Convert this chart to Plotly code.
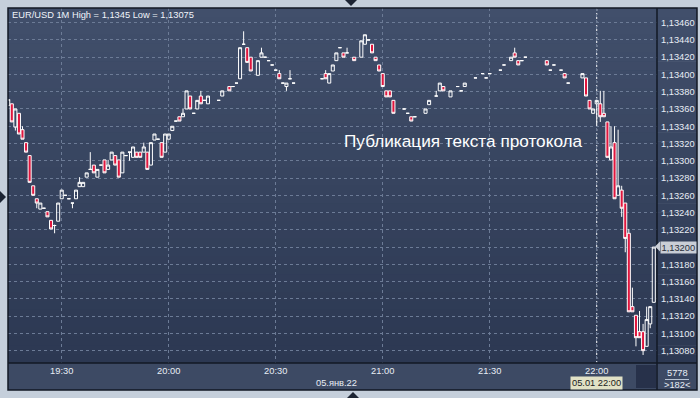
import plotly.graph_objects as go

DAY = "2022-01-05 "

times = [
    "19:15", "19:16", "19:17", "19:18", "19:19", "19:20", "19:21", "19:22", "19:23", "19:24",
    "19:25", "19:26", "19:27", "19:28", "19:29", "19:30", "19:31", "19:32", "19:33", "19:34",
    "19:35", "19:36", "19:37", "19:38", "19:39", "19:40", "19:41", "19:42", "19:43", "19:44",
    "19:45", "19:46", "19:47", "19:48", "19:49", "19:50", "19:51", "19:52", "19:53", "19:54",
    "19:55", "19:56", "19:57", "19:58", "19:59", "20:00", "20:01", "20:02", "20:03", "20:04",
    "20:05", "20:06", "20:07", "20:08", "20:09", "20:10", "20:11", "20:14", "20:15", "20:17",
    "20:18", "20:19", "20:20", "20:21", "20:22", "20:23", "20:25", "20:26", "20:27", "20:28",
    "20:29", "20:30", "20:31", "20:32", "20:33", "20:34", "20:35", "20:43", "20:44", "20:45",
    "20:46", "20:47", "20:48", "20:49", "20:50", "20:52", "20:54", "20:55", "20:56", "20:57",
    "20:58", "20:59", "21:00", "21:01", "21:02", "21:03", "21:06", "21:07", "21:08", "21:09",
    "21:12", "21:13", "21:15", "21:16", "21:17", "21:19", "21:21", "21:22", "21:23", "21:26",
    "21:28", "21:29", "21:30", "21:33", "21:34", "21:36", "21:37", "21:38", "21:39", "21:40",
    "21:46", "21:47", "21:48", "21:50", "21:51", "21:52", "21:56", "21:57", "21:58", "21:59",
    "22:00", "22:01", "22:02", "22:03", "22:04", "22:05", "22:06", "22:07", "22:08", "22:09",
    "22:10", "22:11", "22:12", "22:13", "22:14", "22:15", "22:16",
]

opens = [
    1.13364, 1.13366, 1.13339, 1.13355, 1.13336, 1.13321, 1.13306, 1.13271, 1.13256, 1.13244,
    1.13245, 1.13241, 1.13231, 1.13225, 1.13230, 1.13256, 1.13260, 1.13256, 1.13251, 1.13256,
    1.13270, 1.13270, 1.13281, 1.13290, 1.13295, 1.13281, 1.13295, 1.13301, 1.13290, 1.13301,
    1.13306, 1.13301, 1.13286, 1.13306, 1.13310, 1.13304, 1.13310, 1.13310, 1.13310, 1.13310,
    1.13295, 1.13324, 1.13325, 1.13321, 1.13310, 1.13325, 1.13335, 1.13346, 1.13351, 1.13351,
    1.13360, 1.13375, 1.13355, 1.13360, 1.13375, 1.13370, 1.13366, 1.13370, 1.13375, 1.13386,
    1.13386, 1.13390, 1.13395, 1.13435, 1.13431, 1.13420, 1.13399, 1.13420, 1.13420, 1.13416,
    1.13411, 1.13405, 1.13401, 1.13390, 1.13386, 1.13395, 1.13390, 1.13395, 1.13401, 1.13390,
    1.13404, 1.13416, 1.13431, 1.13425, 1.13425, 1.13420, 1.13420, 1.13435, 1.13440, 1.13435,
    1.13420, 1.13411, 1.13401, 1.13381, 1.13381, 1.13370, 1.13360, 1.13355, 1.13351, 1.13351,
    1.13355, 1.13365, 1.13375, 1.13381, 1.13386, 1.13374, 1.13386, 1.13381, 1.13386, 1.13396,
    1.13401, 1.13396, 1.13401, 1.13405, 1.13411, 1.13416, 1.13425, 1.13416, 1.13416, 1.13420,
    1.13416, 1.13405, 1.13411, 1.13405, 1.13401, 1.13390, 1.13396, 1.13396, 1.13370, 1.13355,
    1.13366, 1.13366, 1.13355, 1.13345, 1.13301, 1.13321, 1.13260, 1.13266, 1.13251, 1.13216,
    1.13131, 1.13121, 1.13102, 1.13102, 1.13085, 1.13111, 1.13136,
]

highs = [
    1.13371, 1.13366, 1.13360, 1.13355, 1.13340, 1.13321, 1.13306, 1.13271, 1.13256, 1.13251,
    1.13245, 1.13241, 1.13231, 1.13226, 1.13251, 1.13266, 1.13260, 1.13256, 1.13251, 1.13266,
    1.13281, 1.13275, 1.13286, 1.13310, 1.13295, 1.13290, 1.13295, 1.13301, 1.13301, 1.13310,
    1.13306, 1.13301, 1.13310, 1.13306, 1.13310, 1.13316, 1.13310, 1.13310, 1.13321, 1.13310,
    1.13321, 1.13331, 1.13325, 1.13321, 1.13331, 1.13331, 1.13340, 1.13346, 1.13351, 1.13360,
    1.13381, 1.13375, 1.13355, 1.13370, 1.13381, 1.13370, 1.13375, 1.13370, 1.13381, 1.13386,
    1.13386, 1.13390, 1.13431, 1.13450, 1.13431, 1.13420, 1.13416, 1.13431, 1.13420, 1.13416,
    1.13411, 1.13405, 1.13405, 1.13390, 1.13390, 1.13405, 1.13390, 1.13395, 1.13405, 1.13401,
    1.13411, 1.13425, 1.13431, 1.13425, 1.13431, 1.13420, 1.13439, 1.13446, 1.13440, 1.13435,
    1.13420, 1.13411, 1.13401, 1.13381, 1.13381, 1.13370, 1.13360, 1.13355, 1.13351, 1.13351,
    1.13360, 1.13370, 1.13381, 1.13390, 1.13386, 1.13381, 1.13386, 1.13381, 1.13390, 1.13396,
    1.13401, 1.13396, 1.13401, 1.13405, 1.13411, 1.13420, 1.13431, 1.13416, 1.13416, 1.13420,
    1.13416, 1.13405, 1.13411, 1.13405, 1.13401, 1.13390, 1.13401, 1.13396, 1.13370, 1.13360,
    1.13370, 1.13381, 1.13381, 1.13345, 1.13340, 1.13340, 1.13336, 1.13271, 1.13251, 1.13221,
    1.13153, 1.13121, 1.13126, 1.13111, 1.13131, 1.13131, 1.13200,
]

lows = [
    1.13364, 1.13345, 1.13335, 1.13331, 1.13325, 1.13310, 1.13275, 1.13260, 1.13245, 1.13244,
    1.13245, 1.13235, 1.13221, 1.13216, 1.13230, 1.13256, 1.13260, 1.13256, 1.13245, 1.13256,
    1.13270, 1.13270, 1.13281, 1.13290, 1.13286, 1.13281, 1.13295, 1.13286, 1.13290, 1.13301,
    1.13295, 1.13281, 1.13286, 1.13306, 1.13300, 1.13304, 1.13304, 1.13304, 1.13310, 1.13290,
    1.13295, 1.13324, 1.13325, 1.13304, 1.13310, 1.13325, 1.13335, 1.13346, 1.13346, 1.13351,
    1.13360, 1.13360, 1.13355, 1.13360, 1.13366, 1.13370, 1.13366, 1.13370, 1.13375, 1.13381,
    1.13386, 1.13390, 1.13395, 1.13435, 1.13414, 1.13404, 1.13399, 1.13420, 1.13420, 1.13416,
    1.13411, 1.13405, 1.13395, 1.13390, 1.13381, 1.13395, 1.13390, 1.13395, 1.13395, 1.13390,
    1.13404, 1.13416, 1.13431, 1.13420, 1.13425, 1.13416, 1.13420, 1.13435, 1.13440, 1.13425,
    1.13416, 1.13404, 1.13386, 1.13374, 1.13374, 1.13355, 1.13360, 1.13355, 1.13346, 1.13351,
    1.13355, 1.13365, 1.13375, 1.13381, 1.13381, 1.13374, 1.13386, 1.13381, 1.13386, 1.13396,
    1.13401, 1.13396, 1.13401, 1.13405, 1.13411, 1.13416, 1.13420, 1.13411, 1.13416, 1.13420,
    1.13411, 1.13405, 1.13411, 1.13405, 1.13396, 1.13390, 1.13396, 1.13375, 1.13360, 1.13355,
    1.13341, 1.13345, 1.13351, 1.13304, 1.13301, 1.13256, 1.13260, 1.13235, 1.13194, 1.13125,
    1.13125, 1.13085, 1.13095, 1.13075, 1.13085, 1.13106, 1.13136,
]

closes = [
    1.13371, 1.13345, 1.13360, 1.13331, 1.13325, 1.13310, 1.13275, 1.13260, 1.13251, 1.13251,
    1.13245, 1.13235, 1.13221, 1.13225, 1.13251, 1.13266, 1.13260, 1.13256, 1.13251, 1.13266,
    1.13275, 1.13275, 1.13286, 1.13290, 1.13286, 1.13290, 1.13295, 1.13286, 1.13295, 1.13310,
    1.13295, 1.13281, 1.13310, 1.13306, 1.13310, 1.13316, 1.13304, 1.13304, 1.13316, 1.13290,
    1.13321, 1.13331, 1.13325, 1.13304, 1.13331, 1.13331, 1.13340, 1.13346, 1.13346, 1.13355,
    1.13381, 1.13360, 1.13355, 1.13370, 1.13366, 1.13370, 1.13375, 1.13370, 1.13381, 1.13381,
    1.13386, 1.13390, 1.13431, 1.13435, 1.13414, 1.13404, 1.13416, 1.13425, 1.13420, 1.13416,
    1.13411, 1.13405, 1.13395, 1.13390, 1.13390, 1.13395, 1.13390, 1.13395, 1.13395, 1.13401,
    1.13411, 1.13425, 1.13431, 1.13420, 1.13425, 1.13416, 1.13439, 1.13446, 1.13440, 1.13425,
    1.13416, 1.13404, 1.13386, 1.13374, 1.13374, 1.13355, 1.13360, 1.13355, 1.13346, 1.13351,
    1.13360, 1.13370, 1.13375, 1.13390, 1.13381, 1.13381, 1.13386, 1.13381, 1.13390, 1.13396,
    1.13401, 1.13396, 1.13401, 1.13405, 1.13411, 1.13420, 1.13420, 1.13411, 1.13416, 1.13420,
    1.13411, 1.13405, 1.13411, 1.13405, 1.13396, 1.13390, 1.13401, 1.13375, 1.13360, 1.13360,
    1.13370, 1.13351, 1.13351, 1.13304, 1.13316, 1.13256, 1.13271, 1.13245, 1.13210, 1.13125,
    1.13125, 1.13095, 1.13095, 1.13080, 1.13116, 1.13131, 1.13200,
]

price_ticks = [1.13080, 1.13100, 1.13120, 1.13140, 1.13160, 1.13180, 1.13200,
               1.13220, 1.13240, 1.13260, 1.13280, 1.13300, 1.13320, 1.13340,
               1.13360, 1.13380, 1.13400, 1.13420, 1.13440, 1.13460]

title_text = "EUR/USD 1M High = 1,1345 Low = 1,13075"
event_text = "Публикация текста протокола"
date_text = "05.янв.22"
cursor_text = "05.01 22:00"
last_price = 1.13200
last_price_text = "1,13200"
bars_text = "5778"
visible_text = ">182<"
x_range = [DAY + "19:14:56", DAY + "22:16:54"]
y_range = [1.130657, 1.134770]
event_time = DAY + "22:00"

FONT = "Liberation Sans, Arial, sans-serif"
FS = 9.3
LBL = "#e8edf5"
GRID = "#6c7b96"

W, H = 700, 398
L, R, T, B = 8, 657, 8, 363


def px(x):
    return (x - L) / (R - L)


def py(y):
    return (B - y) / (B - T)


# tick labels: the last-price tag replaces its own level's label
price_labels = [("" if abs(v - last_price) < 1e-9 else ("%.5f" % v).replace(".", ","))
                for v in price_ticks]

fig = go.Figure()
fig.add_trace(go.Candlestick(
    x=[DAY + t for t in times],
    open=opens, high=highs, low=lows, close=closes,
    increasing=dict(line=dict(color="#ffffff", width=1), fillcolor="rgba(0,0,0,0)"),
    decreasing=dict(line=dict(color="#ffffff", width=1), fillcolor="#e0163e"),
    whiskerwidth=0,
    hoverinfo="skip",
    showlegend=False,
))

shapes = []
# background gradient (plot + right axis)
top_c = (0x41, 0x4f, 0x6b)
bot_c = (0x2c, 0x38, 0x52)
n = 40
for i in range(n):
    f = i / (n - 1)
    c = tuple(round(top_c[k] + (bot_c[k] - top_c[k]) * f) for k in range(3))
    y0 = T + (B - T) * i / n
    y1 = T + (B - T) * (i + 1) / n + 0.5
    shapes.append(dict(type="rect", xref="paper", yref="paper", layer="below",
                       x0=px(L), x1=px(697), y0=py(y1), y1=py(y0),
                       line=dict(width=0), fillcolor="rgb(%d,%d,%d)" % c))
# bottom time-axis band
shapes.append(dict(type="rect", xref="paper", yref="paper", layer="below",
                   x0=px(L), x1=px(697), y0=py(390), y1=py(B),
                   line=dict(width=0), fillcolor="#3d4a64"))
# dark small box
shapes.append(dict(type="rect", xref="paper", yref="paper", layer="below",
                   x0=px(636), x1=px(656), y0=py(388), y1=py(365),
                   line=dict(width=0), fillcolor="#27314a"))
# 22:00 cursor line
shapes.append(dict(type="line", xref="x", yref="paper", layer="below",
                   x0=event_time, x1=event_time, y0=0, y1=1,
                   line=dict(color="#ffffff", width=1, dash="2px,2px")))
# separators / borders
for s in [
    dict(x0=px(R), x1=px(R), y0=py(T), y1=py(390)),
    dict(x0=px(L), x1=px(697), y0=py(B), y1=py(B)),
]:
    shapes.append(dict(type="line", xref="paper", yref="paper", layer="above",
                       line=dict(color="#121824", width=1.5), **s))
shapes.append(dict(type="rect", xref="paper", yref="paper", layer="above",
                   x0=px(L), x1=px(697), y0=py(390), y1=py(T),
                   line=dict(color="#121824", width=1.5)))
# underline between counters
shapes.append(dict(type="line", xref="paper", yref="paper", layer="above",
                   x0=px(665), x1=px(689), y0=py(379.5), y1=py(379.5),
                   line=dict(color="#b8c4d4", width=1)))
# frame triangles
tri = "#1c2433"
shapes.append(dict(type="path", xref="paper", yref="paper", layer="above",
                   path="M %f %f L %f %f L %f %f Z" % (px(345), py(0), px(357), py(0), px(351), py(6)),
                   fillcolor=tri, line=dict(width=0)))
shapes.append(dict(type="path", xref="paper", yref="paper", layer="above",
                   path="M %f %f L %f %f L %f %f Z" % (px(347), py(398), px(359), py(398), px(353), py(392)),
                   fillcolor=tri, line=dict(width=0)))
shapes.append(dict(type="path", xref="paper", yref="paper", layer="above",
                   path="M %f %f L %f %f L %f %f Z" % (px(0), py(191), px(0), py(203), px(6), py(197)),
                   fillcolor=tri, line=dict(width=0)))
# last price pointer
shapes.append(dict(type="path", xref="paper", yref="paper", layer="above",
                   path="M %f %f L %f %f L %f %f Z" % (px(655), py(246.5), px(660), py(241.5), px(660), py(251.5)),
                   fillcolor="#c9ced6", line=dict(width=0)))

annotations = [
    dict(text=title_text, xref="paper", yref="paper", x=px(10), y=py(15),
         xanchor="left", yanchor="middle", showarrow=False,
         font=dict(family=FONT, size=FS, color="#f0f4fa")),
    dict(text=event_text, xref="paper", yref="paper", x=px(463), y=py(141),
         xanchor="center", yanchor="middle", showarrow=False,
         font=dict(family=FONT, size=17.2, color="#ffffff")),
    dict(text=date_text, xref="paper", yref="paper", x=px(336), y=py(383),
         xanchor="center", yanchor="middle", showarrow=False,
         font=dict(family=FONT, size=FS, color=LBL)),
    dict(text=cursor_text, xref="paper", yref="paper", x=px(596.5), y=py(383),
         xanchor="center", yanchor="middle", showarrow=False,
         bgcolor="#e1e1c6", borderpad=1,
         font=dict(family=FONT, size=FS, color="#1a1a1a")),
    dict(text=bars_text, xref="paper", yref="paper", x=px(677), y=py(373),
         xanchor="center", yanchor="middle", showarrow=False,
         font=dict(family=FONT, size=FS, color=LBL)),
    dict(text=visible_text, xref="paper", yref="paper", x=px(677), y=py(385.5),
         xanchor="center", yanchor="middle", showarrow=False,
         font=dict(family=FONT, size=FS, color=LBL)),
    dict(text=last_price_text, xref="paper", yref="y", x=px(659.5), y=last_price,
         xanchor="left", yanchor="middle", showarrow=False,
         bgcolor="#c9ced6", borderpad=0.5,
         font=dict(family=FONT, size=FS, color="#2a2f3a")),
]

fig.update_layout(
    width=W, height=H,
    margin=dict(l=L, r=W - R, t=T, b=H - B, pad=0, autoexpand=False),
    paper_bgcolor="#c5cfdb",
    plot_bgcolor="#37445f",
    showlegend=False,
    boxgap=0.1, boxgroupgap=0.05,
    shapes=shapes,
    annotations=annotations,
    xaxis=dict(
        type="date", range=x_range, rangeslider=dict(visible=False),
        tickformat="%H:%M", dtick=1800000, tick0=DAY + "19:30",
        showgrid=True, gridcolor=GRID, gridwidth=1, griddash="3px,3px",
        ticks="", showline=False, zeroline=False, automargin=False,
        ticklabelstandoff=1,
        tickfont=dict(family=FONT, size=FS, color=LBL),
    ),
    yaxis=dict(
        side="right", range=y_range,
        tickmode="array", tickvals=price_ticks, ticktext=price_labels,
        showgrid=True, gridcolor=GRID, gridwidth=1, griddash="3px,3px",
        ticks="", showline=False, zeroline=False, automargin=False,
        ticklabelstandoff=3,
        tickfont=dict(family=FONT, size=FS, color=LBL),
    ),
)

fig.write_html("out.html")
